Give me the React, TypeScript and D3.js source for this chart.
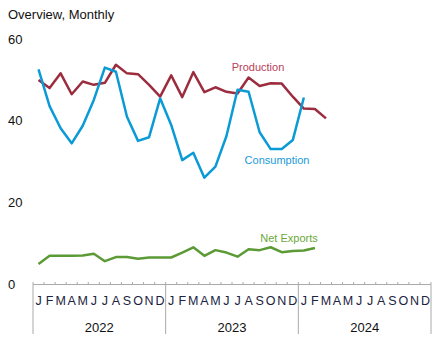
import React from "react";
import * as d3 from "d3";

const years = ["2022", "2023", "2024"];
const monthLetters = ["J", "F", "M", "A", "M", "J", "J", "A", "S", "O", "N", "D"];
const yTicks = [0, 20, 40, 60];

const production = [50.0, 48.0, 51.6, 46.5, 49.6, 48.8, 49.3, 53.7, 51.6, 51.4, 48.8, 45.9,
  51.1, 45.8, 51.9, 47.0, 48.2, 47.1, 46.7, 50.6, 48.5, 49.2, 49.1, 45.9,
  43.0, 42.9, 40.6];
const consumption = [52.6, 43.6, 38.2, 34.5, 38.8, 45.1, 53.0, 52.0, 41.0, 35.1, 36.0, 45.5,
  39.0, 30.4, 32.2, 26.1, 28.8, 36.3, 47.6, 47.1, 37.2, 33.1, 33.1, 35.3,
  45.7];
const netExports = [5.0, 7.0, 7.0, 7.0, 7.1, 7.5, 5.7, 6.7, 6.7, 6.3, 6.6, 6.6,
  6.6, 7.8, 9.1, 7.0, 8.4, 7.8, 6.8, 8.6, 8.4, 9.1, 7.9, 8.2,
  8.3, 8.9];

const W = 443, H = 346;
const x0 = 33, x1 = 431;
const nMonths = years.length * 12;

export default function App() {
  const x = d3.scaleLinear().domain([0, nMonths]).range([x0, x1]);
  const y = d3.scaleLinear().domain([0, 60]).range([284.5, 39]);
  const line = d3.line<number>().x((_, i) => x(i + 0.5)).y((d) => y(d));
  const font = "'Liberation Sans', Arial, sans-serif";
  const series = [
    { data: production, color: "#9b2d3e", label: "Production", lx: 258, ly: 67, lc: "#b8405a" },
    { data: consumption, color: "#0a9bd6", label: "Consumption", lx: 277, ly: 160, lc: "#1a9ad6" },
    { data: netExports, color: "#5b9a35", label: "Net Exports", lx: 289, ly: 238, lc: "#6aa83c" },
  ];
  return (
    <svg width={W} height={H} style={{ position: "absolute", left: 0, top: 0 }} fontFamily={font}>
      <text x={8} y={14} dominantBaseline="central" fontSize={13} fill="#111">Overview, Monthly</text>
      {yTicks.map((t) => (
        <text key={t} x={8} y={y(t)} dominantBaseline="central" fontSize={13} fill="#111">{t}</text>
      ))}
      {series.map((s) => (
        <g key={s.label}>
          <path d={line(s.data) || ""} fill="none" stroke={s.color} strokeWidth={2.5} strokeLinejoin="round" />
          <text x={s.lx} y={s.ly} textAnchor="middle" dominantBaseline="central" fontSize={11} fill={s.lc}>{s.label}</text>
        </g>
      ))}
      <line x1={x0} x2={x1} y1={284.5} y2={284.5} stroke="#aaa" strokeWidth={1} />
      {d3.range(nMonths + 1).map((i) => (
        <line key={"t" + i} x1={x(i)} x2={x(i)} y1={282} y2={284.5} stroke="#aaa" strokeWidth={1} />
      ))}
      {d3.range(years.length + 1).map((i) => (
        <line key={"s" + i} x1={x(i * 12)} x2={x(i * 12)} y1={284.5} y2={334} stroke="#aaa" strokeWidth={1} />
      ))}
      {d3.range(nMonths).map((i) => (
        <text key={"m" + i} x={x(i + 0.5)} y={301} textAnchor="middle" dominantBaseline="central" fontSize={12.5} fill="#1a2340">
          {monthLetters[i % 12]}
        </text>
      ))}
      {years.map((yr, i) => (
        <text key={yr} x={x(i * 12 + 6)} y={327} textAnchor="middle" dominantBaseline="central" fontSize={13} fill="#111">{yr}</text>
      ))}
    </svg>
  );
}
